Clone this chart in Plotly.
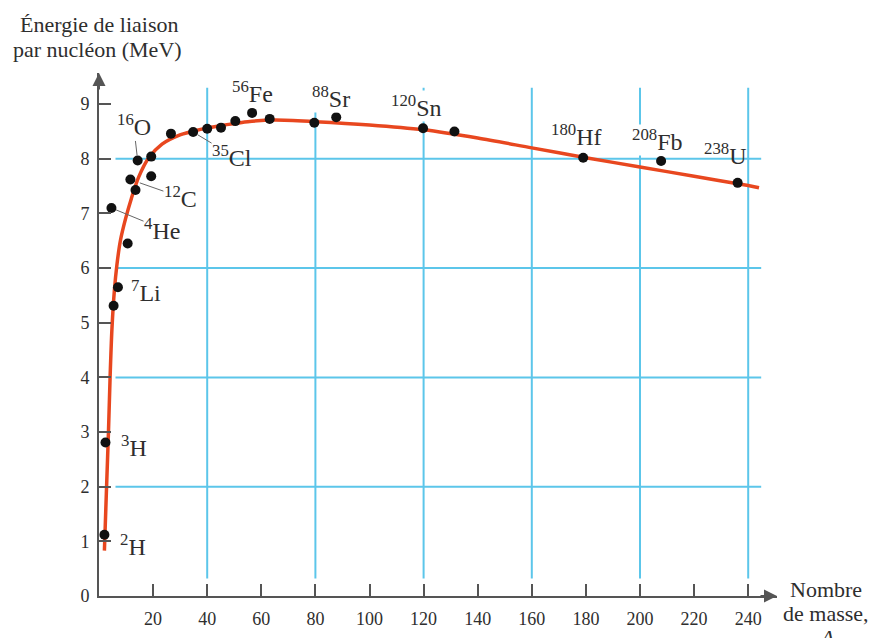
import plotly.graph_objects as go

# ---------------- data ----------------
curve_A = [2.0, 2.8, 3.5, 4.1, 4.8, 5.7, 6.6, 7.9, 9.8, 12.0, 14.7, 18.4, 23.3, 29.5, 34.4,
           40.6, 46.7, 55.0, 65.0, 80.0, 100.0, 120.0, 140.0, 160.0, 180.0, 200.0, 220.0,
           240.0, 244.0]
curve_E = [0.83, 2.0, 3.0, 4.0, 4.9, 5.6, 6.05, 6.5, 6.9, 7.28, 7.67, 8.02, 8.27, 8.43, 8.50,
           8.57, 8.62, 8.68, 8.71, 8.68, 8.62, 8.53, 8.38, 8.20, 8.02, 7.85, 7.68,
           7.51, 7.47]

nuclide_A = [2.0, 2.4, 4.6, 5.4, 7.0, 10.6, 11.6, 13.5, 14.3, 19.3, 19.3, 26.6, 34.8, 40.0,
             45.1, 50.4, 56.6, 63.1, 79.6, 87.7, 119.8, 131.4, 179.0, 207.8, 236.1]
nuclide_E = [1.12, 2.81, 7.10, 5.31, 5.65, 6.45, 7.62, 7.43, 7.97, 7.68, 8.04, 8.46, 8.49, 8.55,
             8.57, 8.69, 8.84, 8.73, 8.66, 8.76, 8.56, 8.50, 8.02, 7.96, 7.56]

label_mass = ["2", "3", "4", "7", "12", "16", "35", "56", "88", "120", "180", "208", "238"]
label_symbol = ["H", "H", "He", "Li", "C", "O", "Cl", "Fe", "Sr", "Sn", "Hf", "Fb", "U"]
# index of the dot a leader line points to (None = no leader)
label_target = [None, None, 2, None, 6, 8, 12, None, None, None, None, None, None]

x_ticks = [20, 40, 60, 80, 100, 120, 140, 160, 180, 200, 220, 240]
y_ticks = [0, 1, 2, 3, 4, 5, 6, 7, 8, 9]
grid_x = [40, 80, 120, 160, 200, 240]
grid_y = [2, 4, 6, 8]

y_title_lines = ["Énergie de liaison", "par nucléon (MeV)"]
x_title_lines = ["Nombre", "de masse,", "<i>A</i>"]

# ---------------- layout geometry / styles ----------------
W, H = 871, 638
ML, MR, MT, MB = 99, 94, 73, 42
PX_PER_A = 2.705
PX_PER_E = 54.65
plot_w = W - ML - MR
plot_h = H - MT - MB
x_range = [0, plot_w / PX_PER_A]
y_range = [0, plot_h / PX_PER_E]


def px_to_paper(px, py):
    return (px - ML) / plot_w, (H - MB - py) / plot_h


SERIF = "Liberation Serif, Times New Roman, serif"
TEXT_C = "#2e2e2e"
GRID_C = "#5cc6ea"
AXIS_C = "#555555"
CURVE_C = "#e8471f"

# label centre positions (data coords)
label_pos = [(12.6, 0.94), (12.8, 2.74), (23.3, 6.72), (17.4, 5.58), (30.1, 7.30),
             (12.8, 8.61), (49.2, 8.06), (56.6, 9.22), (85.8, 9.13), (117.5, 8.96),
             (176.5, 8.43), (206.4, 8.35), (231.6, 8.08)]
label_standoff = {2: 5, 4: 10, 5: 5, 6: 5}
label_bg = {8, 9, 11}

fig = go.Figure()

# grid lines (partial, as in the reference)
for gx in grid_x:
    fig.add_shape(type="line", xref="x", yref="y", x0=gx, x1=gx, y0=0.32, y1=9.30,
                  line=dict(color=GRID_C, width=2), layer="below")
for gy in grid_y:
    fig.add_shape(type="line", xref="x", yref="y", x0=6.1, x1=244.8, y0=gy, y1=gy,
                  line=dict(color=GRID_C, width=2), layer="below")

fig.add_trace(go.Scatter(x=curve_A, y=curve_E, mode="lines",
                         line=dict(color=CURVE_C, width=3.5, shape="spline", smoothing=0.8),
                         cliponaxis=False, hoverinfo="skip"))
fig.add_trace(go.Scatter(x=nuclide_A, y=nuclide_E, mode="markers",
                         marker=dict(color="#111111", size=10), cliponaxis=False))

for i, (m, s) in enumerate(zip(label_mass, label_symbol)):
    tx, ty = label_pos[i]
    txt = f"<sup>{m}</sup>{s}"
    font = dict(family=SERIF, size=24, color=TEXT_C)
    bg = "white" if i in label_bg else "rgba(0,0,0,0)"
    t = label_target[i]
    if t is None:
        fig.add_annotation(x=tx, y=ty, xref="x", yref="y", text=txt, showarrow=False,
                           font=font, xanchor="center", yanchor="middle",
                           bgcolor=bg, borderpad=0)
    else:
        fig.add_annotation(x=nuclide_A[t], y=nuclide_E[t], xref="x", yref="y",
                           ax=tx, ay=ty, axref="x", ayref="y", text=txt,
                           showarrow=True, arrowhead=0, arrowwidth=1, arrowcolor="#666666",
                           standoff=label_standoff.get(i, 5), font=font,
                           bgcolor=bg, borderpad=0)

# axis arrowheads
fig.add_annotation(xref="paper", yref="paper", x=0, y=1, ax=0, ay=18, text="",
                   showarrow=True, arrowhead=2, arrowsize=1.3, arrowwidth=2, arrowcolor=AXIS_C)
fig.add_annotation(xref="paper", yref="paper", x=1, y=0, ax=-18, ay=0, text="",
                   showarrow=True, arrowhead=2, arrowsize=1.3, arrowwidth=2, arrowcolor=AXIS_C)

# axis titles (one annotation per line to control spacing)
for line, (cx, cy) in zip(y_title_lines, [(99, 25), (97, 50)]):
    px, py = px_to_paper(cx, cy)
    fig.add_annotation(xref="paper", yref="paper", x=px, y=py, text=line, showarrow=False,
                       xanchor="center", yanchor="middle",
                       font=dict(family=SERIF, size=22, color=TEXT_C))
for line, (cx, cy) in zip(x_title_lines, [(826, 589), (826, 613), (827, 637)]):
    px, py = px_to_paper(cx, cy)
    fig.add_annotation(xref="paper", yref="paper", x=px, y=py, text=line, showarrow=False,
                       xanchor="center", yanchor="middle",
                       font=dict(family=SERIF, size=22, color=TEXT_C))

fig.update_layout(
    width=W, height=H, margin=dict(l=ML, r=MR, t=MT, b=MB, autoexpand=False),
    paper_bgcolor="white", plot_bgcolor="white", showlegend=False,
    xaxis=dict(range=x_range, showgrid=False, zeroline=False, showline=True, automargin=False,
               linecolor=AXIS_C, linewidth=2, ticks="inside", ticklen=12, tickwidth=2,
               tickcolor=AXIS_C, tickvals=x_ticks, ticktext=[str(v) for v in x_ticks],
               tickfont=dict(family=SERIF, size=18, color=TEXT_C), ticklabelstandoff=5),
    yaxis=dict(range=y_range, showgrid=False, zeroline=False, showline=True, automargin=False,
               linecolor=AXIS_C, linewidth=2, ticks="inside", ticklen=12, tickwidth=2,
               tickcolor=AXIS_C, tickvals=y_ticks, ticktext=[str(v) for v in y_ticks],
               tickfont=dict(family=SERIF, size=18, color=TEXT_C), ticklabelstandoff=4),
)

fig.write_html("out.html", config={"displayModeBar": False},
               post_script="document.body.style.margin='0';document.body.style.overflow='hidden';")
